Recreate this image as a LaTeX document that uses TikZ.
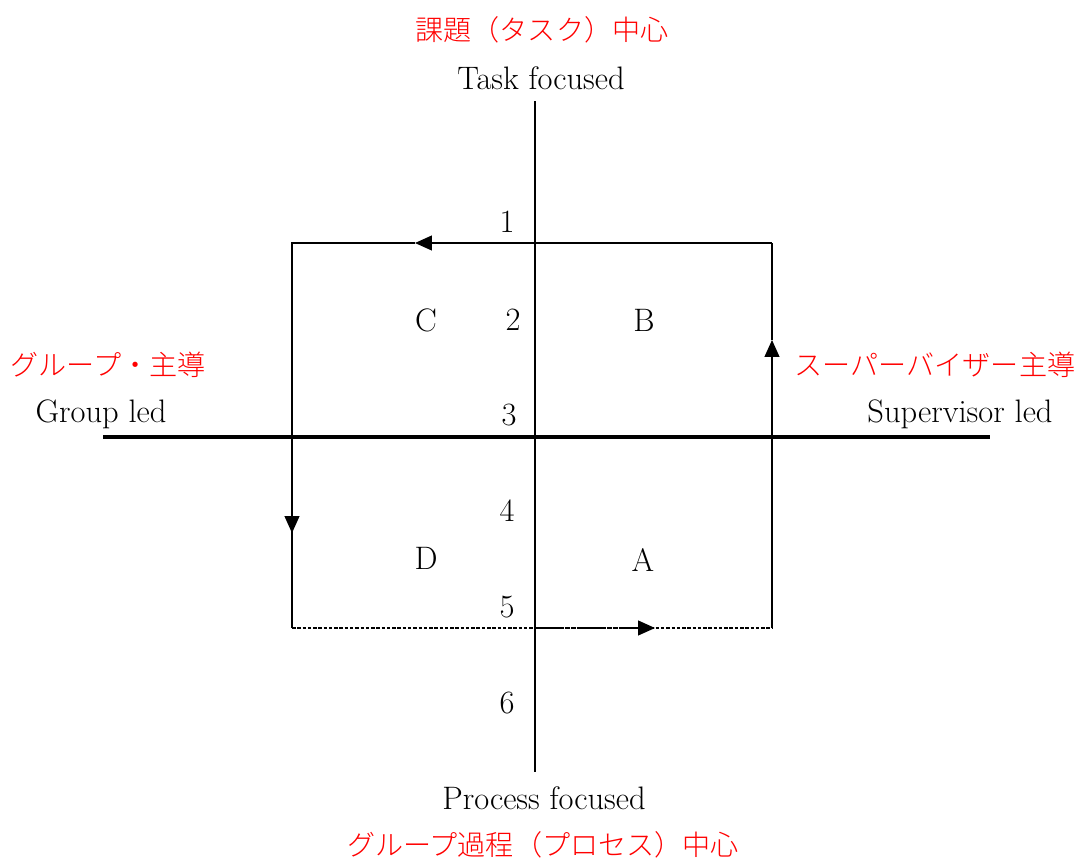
\documentclass[tikz,border=0pt]{standalone}
\usepackage{fontspec}
\newfontfamily\jpfont{Noto Sans CJK JP Light}
\usepackage{tikz}
\usetikzlibrary{arrows.meta, positioning}
\usepackage{xcolor}

\tikzset{
  lbl/.style={font=\fontsize{18.5}{22}\selectfont, inner sep=0pt},
  jplbl/.style={font=\fontsize{16}{19}\selectfont\jpfont, text=red, inner sep=0pt},
  edge/.style={line width=0.7pt},
  tip/.style={-{Triangle[length=0.34cm, width=0.3cm]}},
}

\begin{document}
\begin{tikzpicture}[x=0.02cm, y=-0.02cm]
        \useasboundingbox (0,0) rectangle (1080,859);
        % corners of the loop
        \coordinate (tl) at (292,243);
        \coordinate (tr) at (772,243);
        \coordinate (bl) at (292,628);
        \coordinate (br) at (772,628);
        % axes
        \coordinate (ntop) at (535,101);
        \coordinate (nbot) at (535,772);
        \coordinate (wend) at (103,437);
        \coordinate (eend) at (990,437);
        \draw[edge] (ntop) -- (nbot);
        \draw[line width=2.4pt] (wend) -- (eend);
        % loop with arrows
        \coordinate (atop) at (415,243);
        \coordinate (aright) at (772,340);
        \coordinate (aleft) at (292,533);
        \coordinate (abot) at (655,628);
        \coordinate (mbot) at (535,628);
        \draw[edge, tip] (tr) -- (atop);
        \draw[edge] (atop) -- (tl) -- (aleft);
        \draw[edge, tip] (tl) -- (aleft);
        \draw[edge] (aleft) -- (bl);
        \draw[edge, dash pattern=on 2pt off 1pt] (bl) -- (br);
        \draw[edge, dash pattern=on 3pt off 0.4pt, tip] (mbot) -- (abot);
        \draw[edge, tip] (br) -- (aright);
        \draw[edge] (aright) -- (tr);
        % axis labels
        \node[jplbl] (taskjp) at (542,30) {課題（タスク）中心};
        \node[lbl] (task) at (541,78) {Task focused};
        \node[lbl] (proc) at (544,798) {Process focused};
        \node[jplbl] (procjp) at (543,845) {グループ過程（プロセス）中心};
        \node[jplbl] (groupjp) at (108,365) {グループ・主導};
        \node[lbl] (group) at (101,414) {Group led};
        \node[jplbl] (supjp) at (935,365) {スーパーバイザー主導};
        \node[lbl] (sup) at (960,414) {Supervisor led};
        % quadrants
        \node[lbl] (qc) at (426,320) {C};
        \node[lbl] (qb) at (644,320) {B};
        \node[lbl] (qd) at (426,558) {D};
        \node[lbl] (qa) at (643,560) {A};
        % scale marks
        \foreach \n/\x/\y in {1/507/222, 2/513/320, 3/509/415, 4/507/511, 5/507/607, 6/507/703} {
          \node[lbl] (n\n) at (\x,\y) {\n};
        }
      \end{tikzpicture}
\end{document}
